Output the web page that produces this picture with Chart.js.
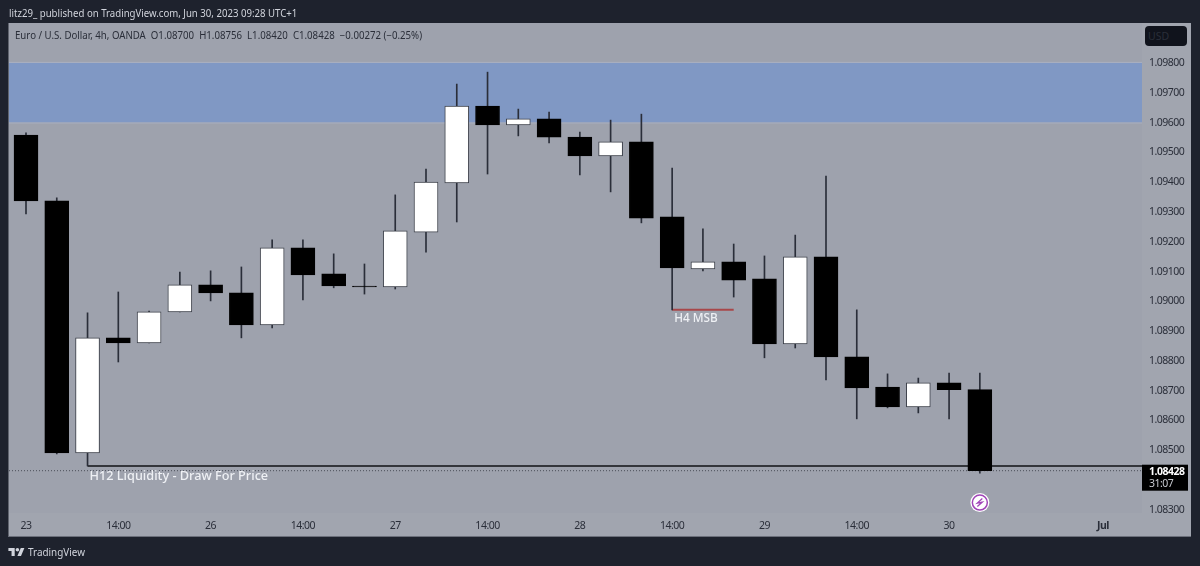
<!DOCTYPE html>
<html>
<head>
<meta charset="utf-8">
<title>EURUSD 4h</title>
<script src="https://cdn.jsdelivr.net/npm/chart.js@4"></script>
<style>
  html, body { margin: 0; padding: 0; background: #1e222d; width: 1200px; height: 566px; overflow: hidden; }
  canvas { position: absolute; left: 0; top: 0; }
  .txt { position: absolute; white-space: pre; font-family: "Noto Sans", sans-serif; transform-origin: left center; }
  #published { left: 9px; top: 5px; font-size: 11px; color: #d1d4dc; transform: scaleX(0.875); }
  #legend { left: 15px; top: 28px; font-size: 10.5px; color: #2a2e39; transform: scaleX(0.92); }
  #usdBtn { left: 1145px; top: 26px; width: 42px; height: 20px; line-height: 20px; background: #10131c; border-radius: 4px; color: #2a2e39; font-size: 10.5px; text-indent: 3px; }
  #tvName { left: 28px; top: 544px; font-size: 11px; color: #d1d4dc; transform: scaleX(0.9); }
  #tvLogo { position: absolute; left: 8px; top: 547px; }
</style>
</head>
<body>
<canvas id="chart" width="1200" height="566"></canvas>
<div class="txt" id="published">litz29_ published on TradingView.com, Jun 30, 2023 09:28 UTC+1</div>
<div class="txt" id="legend">Euro / U.S. Dollar, 4h, OANDA  O1.08700  H1.08756  L1.08420  C1.08428  −0.00272 (−0.25%)</div>
<div class="txt" id="usdBtn">USD</div>
<svg id="tvLogo" width="17" height="9" viewBox="0 0 36 20"><path fill="#d1d4dc" d="M14 20H7V9H0V2h14v18zM28 20h-8l7.5-18h8L28 20z"/><circle fill="#d1d4dc" cx="20" cy="6" r="4"/></svg>
<div class="txt" id="tvName">TradingView</div>
<script>
// candle values, oldest first
const opens = [1.09555,1.09334,1.08488,1.08874,1.08857,1.08961,1.09052,1.09025,1.08917,1.09176,1.09089,1.09048,1.09045,1.09229,1.09394,1.09652,1.09589,1.09609,1.09548,1.09485,1.09532,1.09280,1.09105,1.09129,1.09072,1.08854,1.09146,1.08810,1.08709,1.08642,1.08723,1.08700];
const highs = [1.09562,1.09344,1.08958,1.09028,1.08964,1.09095,1.09099,1.09112,1.09203,1.09203,1.09156,1.09122,1.09354,1.09441,1.09726,1.09766,1.09642,1.09632,1.09565,1.09605,1.09625,1.09444,1.09240,1.09189,1.09149,1.09219,1.09417,1.08968,1.08753,1.08739,1.08756,1.08756];
const lows = [1.09290,1.08484,1.08444,1.08793,1.08857,1.08961,1.08998,1.08874,1.08907,1.09001,1.09042,1.09021,1.09038,1.09162,1.09263,1.09424,1.09552,1.09528,1.09421,1.09364,1.09260,1.08968,1.09099,1.09011,1.08807,1.08840,1.08733,1.08602,1.08639,1.08622,1.08602,1.08420];
const closes = [1.09334,1.08488,1.08874,1.08857,1.08961,1.09052,1.09025,1.08917,1.09176,1.09085,1.09048,1.09045,1.09233,1.09397,1.09652,1.09589,1.09609,1.09548,1.09485,1.09532,1.09276,1.09109,1.09129,1.09068,1.08854,1.09146,1.08810,1.08706,1.08642,1.08723,1.08700,1.08428];

// axis ticks
const timeTickIndexes = [0,3,6,9,12,15,18,21,24,27,30,35];
const timeTickLabels = ['23','14:00','26','14:00','27','14:00','28','14:00','29','14:00','30','Jul'];
const priceTicks = [1.083,1.085,1.086,1.087,1.088,1.089,1.090,1.091,1.092,1.093,1.094,1.095,1.096,1.097,1.098];

// drawings on the chart
const zonePrices = [1.09597, 1.09797];
const liquidityPrice = 1.08444;
const liquidityStartIndex = 2;
const msbPrice = 1.08968;
const msbIndexes = [21, 23];
const lastPrice = 1.08428;
const countdown = '31:07';
const flashIndex = 31;
const flashPrice = 1.08321;

const FONT = '"Noto Sans", sans-serif';
const X_MIN = -0.5525;
const X_MAX = 36.27;

function candleIndexes() {
    return opens.map((_, i) => i);
}

const panelPlugin = {
    id: 'panel',
    beforeDraw(chart) {
        const { ctx, chartArea } = chart;
        ctx.save();
        ctx.fillStyle = '#a1a5af';
        ctx.fillRect(8.5, 23, 1182.5, 514);
        ctx.fillStyle = '#9ea2ad';
        ctx.fillRect(chartArea.left, chartArea.top, chartArea.width, chartArea.height);
        ctx.fillStyle = '#6b6f7a';
        ctx.fillRect(8.5, 536, 1182.5, 1);
        ctx.restore();
        // axis text is narrow in the reference
        ctx.letterSpacing = '-0.5px';
    },
    beforeDatasetsDraw(chart) {
        // supply zone
        const { ctx, chartArea, scales } = chart;
        const top = scales.y.getPixelForValue(zonePrices[1]);
        const bottom = scales.y.getPixelForValue(zonePrices[0]);
        ctx.save();
        ctx.fillStyle = '#8098c4';
        ctx.fillRect(chartArea.left, top, chartArea.width, bottom - top);
        ctx.fillStyle = '#a9b0c0';
        ctx.fillRect(chartArea.left, top - 1, chartArea.width, 1);
        ctx.fillRect(chartArea.left, bottom, chartArea.width, 1);
        ctx.restore();
    },
    afterDatasetsDraw(chart) {
        const { ctx, chartArea, scales } = chart;
        const x = scales.x, y = scales.y;
        ctx.save();

        // text notes
        ctx.letterSpacing = '0px';
        ctx.fillStyle = '#eef0f4';
        ctx.textBaseline = 'middle';
        ctx.textAlign = 'left';
        ctx.font = '500 11.8px ' + FONT;
        ctx.fillText('H4 MSB', x.getPixelForValue(msbIndexes[0]) + 2, y.getPixelForValue(msbPrice) + 9);
        ctx.font = '500 12.7px ' + FONT;
        ctx.fillText('H12 Liquidity - Draw For Price', x.getPixelForValue(liquidityStartIndex) + 2, y.getPixelForValue(liquidityPrice) + 10);

        // last price tag
        ctx.letterSpacing = '-0.5px';
        const tagY = y.getPixelForValue(lastPrice);
        ctx.fillStyle = '#000000';
        ctx.fillRect(chartArea.right, tagY - 6, 46, 26);
        ctx.fillStyle = '#ffffff';
        ctx.font = 'bold 10.5px ' + FONT;
        ctx.fillText(lastPrice.toFixed(5), chartArea.right + 7, tagY + 1);
        ctx.fillStyle = '#c8cad0';
        ctx.font = '10.5px ' + FONT;
        ctx.fillText(countdown, chartArea.right + 7, tagY + 13);

        // flash marker
        const fx = x.getPixelForValue(flashIndex);
        const fy = y.getPixelForValue(flashPrice);
        ctx.beginPath();
        ctx.arc(fx, fy, 9.5, 0, Math.PI * 2);
        ctx.fillStyle = '#ffffff';
        ctx.fill();
        ctx.beginPath();
        ctx.arc(fx, fy, 7.5, 0, Math.PI * 2);
        ctx.strokeStyle = '#a044b8';
        ctx.lineWidth = 1.5;
        ctx.stroke();
        ctx.beginPath();
        ctx.moveTo(fx + 2.5, fy - 4);
        ctx.lineTo(fx - 2.5, fy + 0.5);
        ctx.lineTo(fx + 2.5, fy - 0.5);
        ctx.lineTo(fx - 2.5, fy + 4);
        ctx.strokeStyle = '#a044b8';
        ctx.lineWidth = 1.3;
        ctx.stroke();
        ctx.restore();
    }
};

function initChart() {
    const xs = candleIndexes();
    const isUp = xs.map(i => closes[i] >= opens[i]);

    new Chart(document.getElementById('chart').getContext('2d'), {
        type: 'bar',
        data: {
            datasets: [
                {
                    label: 'Body',
                    order: 1,
                    grouped: false,
                    data: xs.map(i => ({ x: i, y: [opens[i], closes[i]] })),
                    backgroundColor: isUp.map(up => up ? '#ffffff' : '#000000'),
                    borderColor: isUp.map(up => up ? '#3c404a' : '#000000'),
                    borderWidth: 1,
                    borderSkipped: false,
                    barThickness: 24
                },
                {
                    label: 'Wick',
                    order: 2,
                    grouped: false,
                    data: xs.map(i => ({ x: i, y: [lows[i], highs[i]] })),
                    backgroundColor: '#2a2e39',
                    borderWidth: 0,
                    barThickness: 1
                },
                {
                    type: 'line',
                    label: 'H12 Liquidity',
                    order: 3,
                    data: [{ x: liquidityStartIndex, y: liquidityPrice }, { x: X_MAX, y: liquidityPrice }],
                    borderColor: '#101216',
                    borderWidth: 1.5,
                    pointRadius: 0
                },
                {
                    type: 'line',
                    label: 'Last price',
                    order: 3,
                    data: [{ x: X_MIN, y: lastPrice }, { x: X_MAX, y: lastPrice }],
                    borderColor: '#4a4e58',
                    borderWidth: 1,
                    borderDash: [1, 2],
                    pointRadius: 0
                },
                {
                    type: 'line',
                    label: 'H4 MSB',
                    order: 3,
                    data: msbIndexes.map(i => ({ x: i, y: msbPrice })),
                    borderColor: '#a8474a',
                    borderWidth: 2,
                    pointRadius: 0
                }
            ]
        },
        options: {
            responsive: false,
            animation: false,
            devicePixelRatio: 1,
            layout: { padding: { left: 9, top: 23, right: 9, bottom: 29 } },
            plugins: {
                legend: { display: false },
                tooltip: { enabled: false }
            },
            scales: {
                x: {
                    type: 'linear',
                    offset: false,
                    min: X_MIN,
                    max: X_MAX,
                    grid: { display: false, drawTicks: false },
                    border: { display: false },
                    afterBuildTicks(axis) {
                        axis.ticks = timeTickIndexes.map(v => ({ value: v }));
                    },
                    afterFit(axis) {
                        axis.height = 24;
                    },
                    ticks: {
                        autoSkip: false,
                        maxRotation: 0,
                        padding: 7,
                        color: '#2a2e39',
                        font(ctx) {
                            const isMonth = ctx.tick && ctx.tick.value === 35;
                            return { family: FONT, size: 10.5, weight: isMonth ? 'bold' : 'normal' };
                        },
                        callback(value) {
                            return timeTickLabels[timeTickIndexes.indexOf(value)];
                        }
                    }
                },
                y: {
                    position: 'right',
                    min: 1.08286,
                    max: 1.09931,
                    grid: { display: false, drawTicks: false },
                    border: { display: false },
                    afterBuildTicks(axis) {
                        axis.ticks = priceTicks.map(v => ({ value: v }));
                    },
                    afterFit(axis) {
                        axis.width = 49;
                    },
                    ticks: {
                        padding: 7,
                        labelOffset: 1,
                        color: '#2a2e39',
                        font: { family: FONT, size: 10.5 },
                        callback(value) {
                            return value.toFixed(5);
                        }
                    }
                }
            }
        },
        plugins: [panelPlugin]
    });
}

document.addEventListener('DOMContentLoaded', initChart);
</script>
</body>
</html>
